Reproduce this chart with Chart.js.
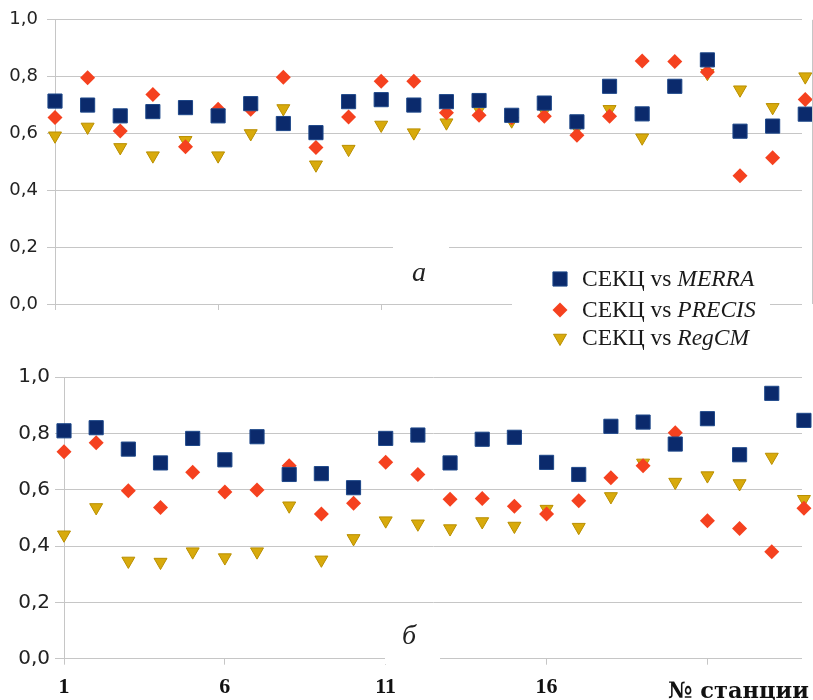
<!DOCTYPE html>
<html>
<head>
<meta charset="utf-8">
<script src="https://cdn.jsdelivr.net/npm/chart.js@4.4.1/dist/chart.umd.min.js"></script>
<style>
  html, body { margin: 0; padding: 0; background: #ffffff; }
  #wrap { position: relative; width: 813px; height: 700px; overflow: hidden; background: #fff; }
  canvas { position: absolute; left: 0; }
  #cTop { top: 0; }
  #cBot { top: 360px; }
</style>
</head>
<body>
<div id="wrap">
  <canvas id="cTop" width="813" height="360"></canvas>
  <canvas id="cBot" width="813" height="340"></canvas>
</div>
<script>
// ---------- DATA ----------
const stations = [1,2,3,4,5,6,7,8,9,10,11,12,13,14,15,16,17,18,19,20,21,22,23,24];
const xTickValues = [1, 6, 11, 16, 21];
const xTickLabels = ['1', '6', '11', '16', '21'];
const yTickLabels = ['0,0', '0,2', '0,4', '0,6', '0,8', '1,0'];

const seriesNames = ['MERRA', 'PRECIS', 'RegCM'];
const legendPrefix = 'СЕКЦ vs ';
const panelLabelA = 'а';
const panelLabelB = 'б';
const xAxisTitle = '№ станции';

// panel a
const merraA  = [0.714,0.700,0.662,0.677,0.691,0.662,0.705,0.635,0.603,0.712,0.719,0.700,0.712,0.716,0.664,0.707,0.641,0.766,0.669,0.766,0.859,0.608,0.626,0.668];
const precisA = [0.656,0.796,0.609,0.737,0.553,0.685,0.685,0.798,0.551,0.658,0.784,0.784,0.673,0.664,0.655,0.661,0.594,0.661,0.855,0.853,0.816,0.451,0.515,0.720];
const regcmA  = [0.592,0.623,0.551,0.522,0.576,0.522,0.600,0.688,0.490,0.545,0.630,0.603,0.638,0.685,0.645,0.680,0.620,0.685,0.585,0.770,0.812,0.754,0.692,0.800];

// panel б
const merraB  = [0.809,0.820,0.744,0.695,0.782,0.706,0.788,0.654,0.657,0.607,0.782,0.794,0.695,0.779,0.786,0.697,0.654,0.825,0.840,0.762,0.852,0.724,0.942,0.846];
const precisB = [0.735,0.767,0.596,0.537,0.662,0.592,0.599,0.685,0.514,0.552,0.697,0.654,0.566,0.569,0.541,0.514,0.561,0.642,0.685,0.802,0.490,0.462,0.380,0.534];
const regcmB  = [0.440,0.537,0.347,0.343,0.380,0.359,0.380,0.543,0.351,0.427,0.490,0.479,0.462,0.487,0.471,0.531,0.467,0.576,0.695,0.627,0.650,0.622,0.716,0.566];

// ---------- STYLE ----------
const gridColor = '#c6c6c6';
const styles = [
  { pointStyle: 'rect',    radius: 10,  rotation: 0,   bg: '#0b2a6c', border: '#1d4789', bw: 1 },
  { pointStyle: 'rectRot', radius: 7.5, rotation: 0,   bg: '#f5411f', border: '#f5411f', bw: 0 },
  { pointStyle: 'triangle',radius: 7.5, rotation: 180, bg: '#d8aa0c', border: '#b98f00', bw: 1 }
];

function toPts(arr) { return arr.map((v, i) => ({ x: stations[i], y: v })); }

function makeDatasets(a, b, c) {
  return [a, b, c].map((arr, i) => ({
    label: legendPrefix + seriesNames[i],
    data: toPts(arr),
    pointStyle: styles[i].pointStyle,
    pointRadius: styles[i].radius,
    pointRotation: styles[i].rotation,
    pointBackgroundColor: styles[i].bg,
    pointBorderColor: styles[i].border,
    pointBorderWidth: styles[i].bw,
    showLine: false,
    clip: false
  }));
}

function drawMarker(ctx, st, x, y) {
  ctx.save();
  ctx.fillStyle = st.bg;
  ctx.strokeStyle = st.border;
  ctx.lineWidth = st.bw;
  Chart.helpers.drawPoint(ctx, { pointStyle: st.pointStyle, radius: st.radius, rotation: st.rotation, borderWidth: st.bw }, x, y);
  ctx.restore();
}

const topDecor = {
  id: 'topDecor',
  afterDraw(chart) {
    const ctx = chart.ctx;
    const ca = chart.chartArea;
    ctx.save();
    // right border
    ctx.strokeStyle = gridColor;
    ctx.lineWidth = 1;
    ctx.beginPath();
    ctx.moveTo(812.5, ca.top);
    ctx.lineTo(812.5, ca.bottom);
    ctx.stroke();
    // panel label a
    ctx.fillStyle = '#fff';
    ctx.fillRect(393, 238, 56, 62);
    ctx.fillStyle = '#222';
    ctx.font = 'italic 28px "Liberation Serif"';
    ctx.textAlign = 'center';
    ctx.textBaseline = 'alphabetic';
    ctx.fillText(panelLabelA, 419, 281);
    // legend
    ctx.fillStyle = '#fff';
    ctx.fillRect(512, 256, 258, 96);
    const rows = [279, 310, 338];
    ctx.textAlign = 'left';
    for (let i = 0; i < 3; i++) {
      drawMarker(ctx, styles[i], 560, rows[i]);
      ctx.fillStyle = '#1a1a1a';
      ctx.font = '23.5px "Liberation Serif"';
      ctx.textBaseline = 'middle';
      ctx.fillText(legendPrefix, 582, rows[i] + 1);
      const w = ctx.measureText(legendPrefix).width;
      ctx.font = 'italic 23.5px "Liberation Serif"';
      ctx.fillText(seriesNames[i], 582 + w, rows[i] + 1);
    }
    ctx.restore();
  }
};

const botDecor = {
  id: 'botDecor',
  afterDraw(chart) {
    const ctx = chart.ctx;
    ctx.save();
    // panel label б
    ctx.fillStyle = '#fff';
    ctx.fillRect(385, 252, 55, 52);
    ctx.fillStyle = '#222';
    ctx.font = 'italic 28px "Liberation Serif"';
    ctx.textAlign = 'center';
    ctx.textBaseline = 'alphabetic';
    ctx.fillText(panelLabelB, 409, 284);
    // axis title
    ctx.fillStyle = '#fff';
    ctx.fillRect(662, 309, 151, 31);
    ctx.fillStyle = '#111';
    ctx.font = 'bold 22.5px "DejaVu Serif"';
    ctx.textAlign = 'left';
    ctx.fillText(xAxisTitle, 668, 338);
    ctx.restore();
  }
};

function makeChart(canvasId, datasets, cfg) {
  return new Chart(document.getElementById(canvasId), {
    type: 'scatter',
    data: { datasets },
    options: {
      responsive: false,
      animation: false,
      events: [],
      layout: { padding: { top: cfg.padTop, left: 0, right: 0, bottom: 0 } },
      plugins: { legend: { display: false }, tooltip: { enabled: false } },
      scales: {
        x: {
          type: 'linear',
          min: 1,
          max: cfg.xMax,
          afterBuildTicks: s => { s.ticks = xTickValues.map(v => ({ value: v })); },
          afterFit: s => { s.height = cfg.xHeight; },
          ticks: {
            display: cfg.xLabels,
            callback: (v) => xTickLabels[xTickValues.indexOf(v)],
            font: { family: '"Liberation Serif"', weight: 'bold', size: 22 },
            color: '#111',
            padding: 9,
            maxRotation: 0
          },
          grid: { drawOnChartArea: false, drawTicks: true, tickLength: 6, color: gridColor },
          border: { display: false }
        },
        y: {
          min: 0,
          max: 1,
          afterFit: s => { s.width = cfg.yWidth; },
          ticks: {
            stepSize: 0.2,
            callback: (v) => yTickLabels[Math.round(v / 0.2)],
            font: { family: '"DejaVu Sans"', size: cfg.yFont },
            color: '#222',
            padding: cfg.yPad
          },
          grid: { color: gridColor, tickLength: cfg.yTick },
          border: { display: true, color: gridColor }
        }
      }
    },
    plugins: [cfg.decor]
  });
}

makeChart('cTop', makeDatasets(merraA, precisA, regcmA), {
  padTop: 18, xMax: 23.9, xHeight: 56, xLabels: false, yWidth: 55, yFont: 18, yPad: 9, yTick: 8, decor: topDecor
});
makeChart('cBot', makeDatasets(merraB, precisB, regcmB), {
  padTop: 13, xMax: 23.94, xHeight: 41.3, xLabels: true, yWidth: 64, yFont: 20, yPad: 5, yTick: 9, decor: botDecor
});
</script>
</body>
</html>
